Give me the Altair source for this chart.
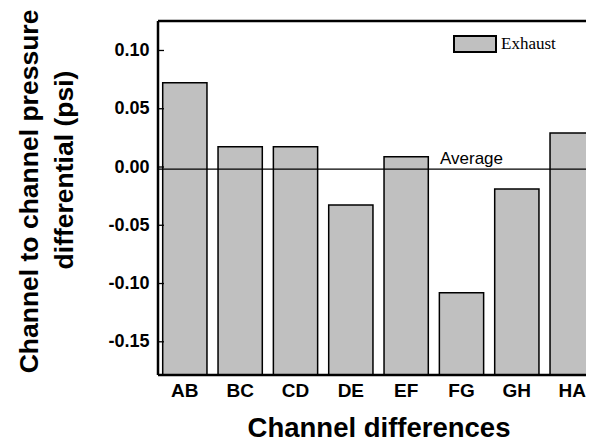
import altair as alt
import pandas as pd

categories = ["AB", "BC", "CD", "DE", "EF", "FG", "GH", "HA"]
values = [0.0724, 0.0174, 0.0174, -0.0326, 0.0088, -0.1079, -0.0189, 0.0292]
series = ["Exhaust"] * len(categories)
y_ticks = [-0.15, -0.10, -0.05, 0.00, 0.05, 0.10]
y_min, y_max = -0.1785, 0.1253
y_title_line1 = "Channel to channel pressure"
y_title_line2 = "differential (psi)"

avg = sum(values) / len(values)

df = pd.DataFrame({"cat": categories, "val": values, "series": series})
ticks_df = pd.DataFrame({"t": y_ticks})
avg_df = pd.DataFrame({"avg": [avg], "label": ["Average"]})
title2_df = pd.DataFrame({"txt": [y_title_line2]})

FONT = "Liberation Sans"
W, H = 441, 354

yscale = alt.Scale(domain=[y_min, y_max], nice=False, zero=False)
xscale = alt.Scale(paddingInner=0.2, paddingOuter=0.085)

bars = alt.Chart(df).mark_bar(
    stroke="black", strokeWidth=1.5
).encode(
    x=alt.X("cat:N", sort=categories, scale=xscale,
            axis=alt.Axis(title="Channel differences", labelAngle=0,
                          labelFont=FONT, labelFontSize=19, labelFontWeight="bold",
                          labelColor="black", labelPadding=6, ticks=False, domain=False,
                          titleFont=FONT, titleFontSize=27.5, titleFontWeight="bold",
                          titleColor="black", titlePadding=14)),
    y=alt.Y("val:Q", scale=yscale,
            axis=alt.Axis(title=y_title_line1,
                          values=y_ticks, ticks=False, domain=False, grid=False,
                          labelExpr="replace(format(datum.value, '.2f'), '\u2212', '-')",
                          labelFont=FONT, labelFontSize=18, labelFontWeight="bold",
                          labelColor="black", labelPadding=9,
                          titleFont=FONT, titleFontSize=26.5, titleFontWeight="bold",
                          titleColor="black", titleX=-121, titleY=170,
                          titleBaseline="alphabetic", titleAlign="center", titleAngle=270)),
    y2=alt.datum(y_min),
    color=alt.Color("series:N", scale=alt.Scale(range=["#c0c0c0"]),
                    legend=alt.Legend(title=None, orient="none", legendX=295, legendY=1,
                                      symbolType="M-1,-0.38L1,-0.38L1,0.38L-1,0.38Z",
                                      symbolSize=1764, symbolStrokeColor="black",
                                      symbolStrokeWidth=2, symbolFillColor="#c0c0c0",
                                      labelFont="Liberation Serif", labelFontSize=17,
                                      labelColor="black", labelOffset=4, padding=0)),
)

yticks = alt.Chart(ticks_df).mark_rule(color="black", strokeWidth=1.3).encode(
    x=alt.value(0), x2=alt.value(6), y=alt.Y("t:Q", scale=yscale)
)

avg_rule = alt.Chart(avg_df).mark_rule(color="black", strokeWidth=1.2).encode(
    y=alt.Y("avg:Q", scale=yscale)
)

avg_text = alt.Chart(avg_df).mark_text(
    align="left", baseline="alphabetic", dy=-5, font=FONT, fontSize=17, color="black"
).encode(
    x=alt.value(282), y=alt.Y("avg:Q", scale=yscale), text="label:N"
)

title2 = alt.Chart(title2_df).mark_text(
    angle=270, align="center", baseline="alphabetic", font=FONT, fontSize=26.5,
    fontWeight="bold", color="black"
).encode(
    x=alt.value(-85), y=alt.value(149), text="txt:N"
)

# plot frame (left, top, bottom edges)
frame_top = alt.Chart(avg_df).mark_rule(color="black", strokeWidth=2.5).encode(
    x=alt.value(0), x2=alt.value(W + 10), y=alt.value(0))
frame_bottom = alt.Chart(avg_df).mark_rule(color="black", strokeWidth=2.5).encode(
    x=alt.value(0), x2=alt.value(W + 10), y=alt.value(H))
frame_left = alt.Chart(avg_df).mark_rule(color="black", strokeWidth=2.5).encode(
    x=alt.value(0), y=alt.value(0), y2=alt.value(H))

chart = alt.layer(bars, avg_rule, yticks, avg_text, title2,
                  frame_top, frame_bottom, frame_left).properties(
    width=W, height=H,
    autosize=alt.AutoSizeParams(type="none"),
    padding={"left": 150, "top": 13, "right": -13, "bottom": 69},
).configure_view(
    strokeWidth=0
).configure_axis(grid=False)

chart.save("out.html", embed_options={"renderer": "svg", "actions": False})
